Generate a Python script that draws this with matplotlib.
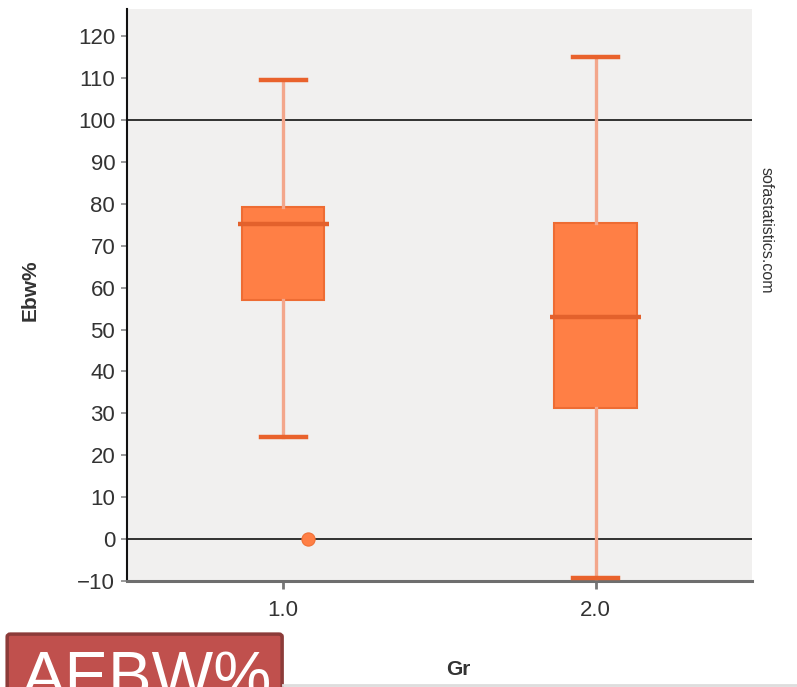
import numpy as np
import matplotlib.pyplot as plt
from matplotlib.patches import FancyBboxPatch

plt.rcParams['font.family'] = ['Liberation Sans', 'DejaVu Sans']

# box summaries per group
groups = [1.0, 2.0]
group_labels = ['1.0', '2.0']
q1 = [57.0, 31.3]
median = [75.2, 53.0]
q3 = [79.3, 75.5]
whisker_lo = [24.3, -9.3]
whisker_hi = [109.5, 115.0]
outlier_x = [1.08]
outlier_y = [0.0]
ref_lines = [0, 100]
yticks = np.arange(-10, 121, 10)

fig = plt.figure(figsize=(7.97, 6.87), dpi=100)
ax = fig.add_axes([0.1593, 0.1543, 0.7842, 0.8326])
ax.set_facecolor('#f1f0ef')

stats = []
for i in range(len(groups)):
    stats.append({'med': median[i], 'q1': q1[i], 'q3': q3[i],
                  'whislo': whisker_lo[i], 'whishi': whisker_hi[i],
                  'fliers': []})

ax.bxp(stats, positions=groups, widths=0.264, capwidths=0.143,
       patch_artist=True, showfliers=False, zorder=3,
       boxprops=dict(facecolor='#ff7f45', edgecolor='#ee6c33', linewidth=1.5),
       whiskerprops=dict(color='#f3a68b', linewidth=2.4),
       capprops=dict(color='#e9622c', linewidth=3.2),
       medianprops=dict(linewidth=0))
ax.hlines(median, np.array(groups) - 0.145, np.array(groups) + 0.145,
          color='#e3612c', linewidth=3.2, zorder=4)
ax.scatter(outlier_x, outlier_y, s=90, color='#ff7f45', edgecolor='#f07035',
           linewidth=0.8, zorder=5)

for v in ref_lines:
    ax.axhline(v, color='#222222', linewidth=1.3, zorder=2)

ax.set_xlim(0.5, 2.5)
ax.set_ylim(-10, 126.5)
ax.set_xticks(groups)
ax.set_xticklabels(group_labels)
ax.set_yticks(yticks)

ax.spines['top'].set_visible(False)
ax.spines['right'].set_visible(False)
ax.spines['left'].set_color('#111111')
ax.spines['left'].set_linewidth(1.5)
ax.spines['bottom'].set_color('#6e6e6e')
ax.spines['bottom'].set_linewidth(2.2)
ax.tick_params(axis='y', length=4.5, width=1.2, color='#888888',
               labelsize=16, labelcolor='#333333', pad=4)
ax.tick_params(axis='x', length=6, width=2, color='#777777',
               labelsize=16, labelcolor='#333333', pad=8)

fig.text(0.038, 0.578, 'Ebw%', rotation=90, ha='center', va='center',
         fontsize=15, fontweight='bold', color='#333333')
fig.text(0.575, 0.025, 'Gr', ha='center', va='center',
         fontsize=15, fontweight='bold', color='#333333')
fig.text(0.961, 0.665, 'sofastatistics.com', rotation=-90, ha='center',
         va='center', fontsize=11.5, color='#333333')

# thin separator along the bottom edge
fig.add_artist(plt.Line2D([0.355, 1.0], [0.003, 0.003], color='#dddddd',
                          linewidth=2, transform=fig.transFigure))

# red title tag at lower left
tag = FancyBboxPatch((0.009, -0.05), 0.345, 0.127,
                     boxstyle='round,pad=0,rounding_size=0.004',
                     transform=fig.transFigure, facecolor='#c0504d',
                     edgecolor='#8c3b39', linewidth=2.5, clip_on=False)
fig.add_artist(tag)
fig.text(0.027, -0.015, 'AEBW%', ha='left', va='baseline', fontsize=47,
         color='white')

fig.savefig('out.png', dpi=100)
